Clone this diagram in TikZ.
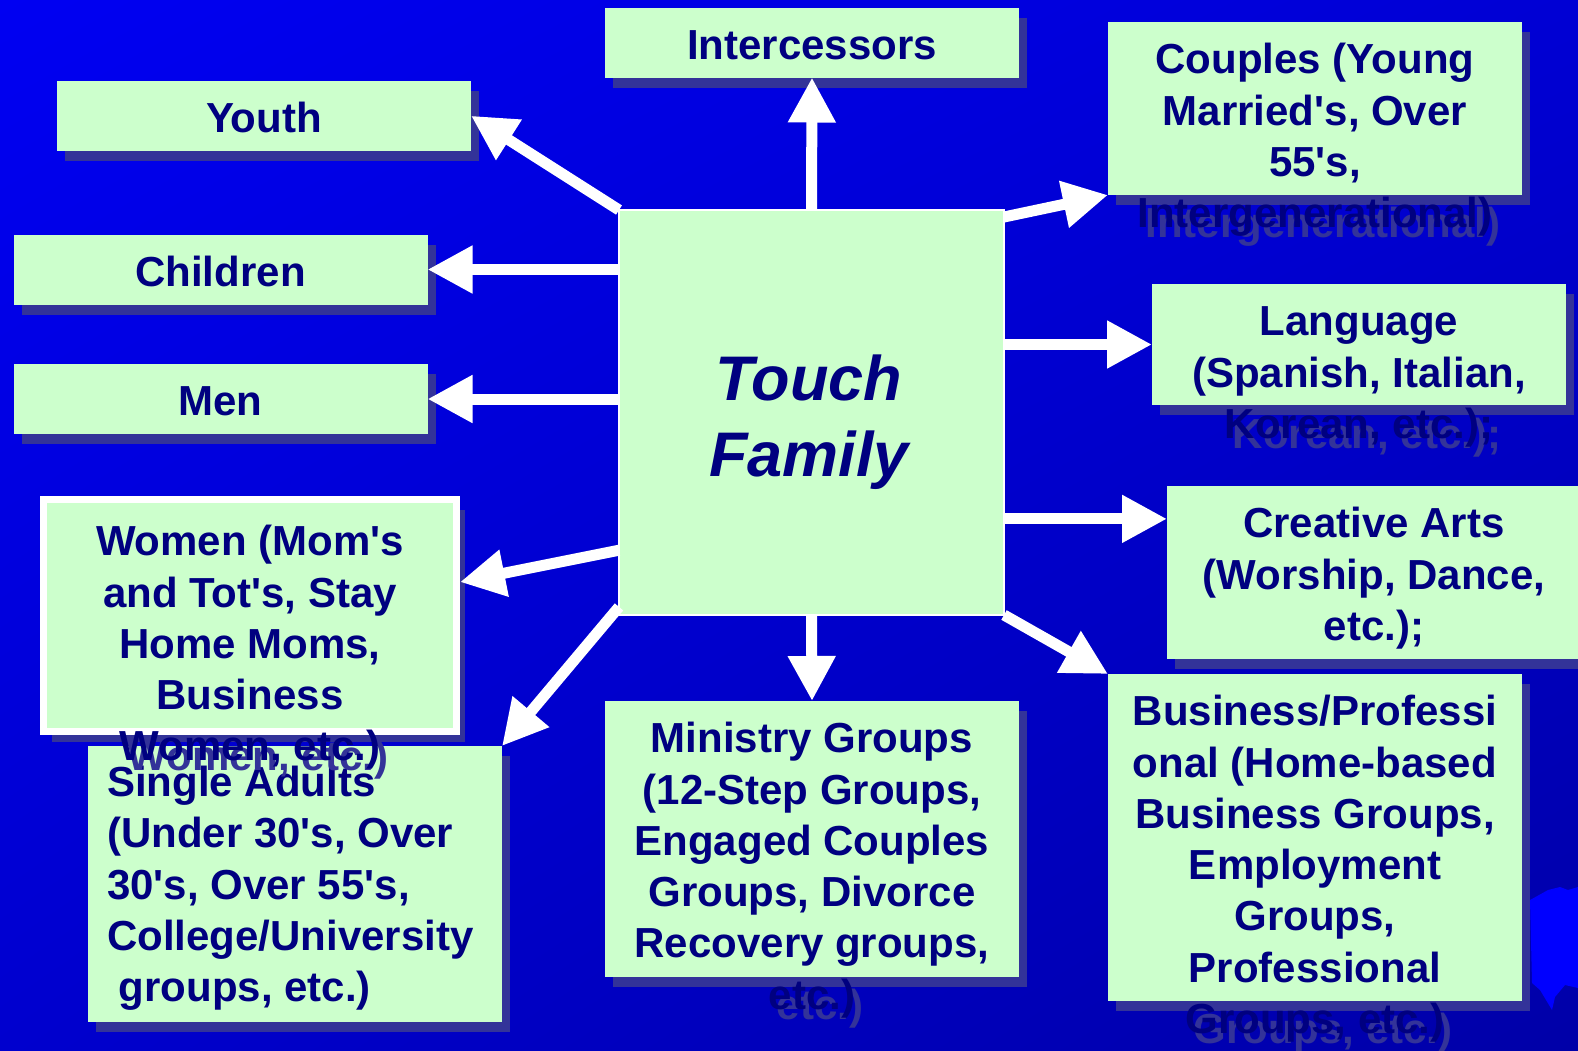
\documentclass[tikz,border=0pt]{standalone}
\usepackage{fontspec}
\setmainfont{Liberation Sans}[Ligatures=TeXOff]
\usetikzlibrary{arrows.meta, calc, shadows, shadings}
\definecolor{bgtl}{RGB}{0, 0, 242}
\definecolor{bgtr}{RGB}{0, 0, 212}
\definecolor{bgbl}{RGB}{0, 0, 206}
\definecolor{bgbr}{RGB}{0, 0, 168}
\definecolor{blobblue}{RGB}{0, 0, 255}
\definecolor{cardgreen}{RGB}{204, 255, 204}
\definecolor{shadowblue}{RGB}{51, 51, 153}
\definecolor{inknavy}{RGB}{0, 0, 128}

\tikzset{
  card/.style={fill=cardgreen, minimum width=414pt, inner sep=0pt, outer sep=0pt,
    drop shadow={shadow xshift=8pt, shadow yshift=-10pt, fill=shadowblue, opacity=1}},
  cardtext/.style={anchor=north, align=center, inner sep=0pt, text=inknavy,
    font=\fontsize{42}{51.3}\selectfont\bfseries},
  cardshade/.style={cardtext, text=shadowblue, shift={(8,10)}},
  famarrow/.style={draw=white, line width=11pt, -{Triangle[length=45pt, width=45pt]}}
}

\begin{document}
\begin{tikzpicture}[x=1pt, y=-1pt]
  \useasboundingbox (0,0) rectangle (1578,1050);
  % Backdrop
  \shade[upper left=bgtl, upper right=bgtr, lower left=bgbl, lower right=bgbr] (0,0) rectangle (1578,1050);
  \fill[blobblue] (1530,900) -- (1548,890) -- (1560,887) -- (1568,890) -- (1578,887) -- (1578,988)
    -- (1565,985) -- (1555,997) -- (1552,1010) -- (1540,990) -- (1532,983) -- cycle;

  % Top row
  \node[cardshade] (inter-s) at (812,23.6) {\strut Intercessors};
  \node[card, minimum height=69.5pt] (inter) at (812,42.75) {};
  \node[cardtext] (inter-t) at (812,23.6) {\strut Intercessors};

  \node[cardshade] (youth-s) at (264,96.1) {\strut Youth};
  \node[card, minimum height=70.5pt] (youth) at (264,115.75) {};
  \node[cardtext] (youth-t) at (264,96.1) {\strut Youth};

  \node[cardshade] (couples-s) at (1315,37.6) {\strut Couples (Young\\Married's, Over\\55's,\\Intergenerational)};
  \node[card, minimum height=173pt] (couples) at (1315,108.5) {};
  \node[cardtext] (couples-t) at (1315,37.6) {\strut Couples (Young\\Married's, Over\\55's,\\Intergenerational)};

  % Left column
  \node[cardshade] (children-s) at (220.5,250.1) {\strut Children};
  \node[card, minimum height=70pt] (children) at (220.5,269.5) {};
  \node[cardtext] (children-t) at (220.5,250.1) {\strut Children};

  \node[cardshade] (men-s) at (220.5,379.6) {\strut Men};
  \node[card, minimum height=70pt] (men) at (220.5,399) {};
  \node[cardtext] (men-t) at (220.5,379.6) {\strut Men};

  % Right column
  \node[cardshade] (lang-s) at (1359,299.6) {\strut Language\\(Spanish, Italian,\\Korean, etc.);};
  \node[card, minimum height=121pt] (lang) at (1359,344.5) {};
  \node[cardtext] (lang-t) at (1359,299.6) {\strut Language\\(Spanish, Italian,\\Korean, etc.);};

  \node[cardshade] (arts-s) at (1374,501.6) {\strut Creative Arts\\(Worship, Dance,\\etc.);};
  \node[card, minimum height=173pt] (arts) at (1374,572.5) {};
  \node[cardtext] (arts-t) at (1374,501.6) {\strut Creative Arts\\(Worship, Dance,\\etc.);};

  % Bottom row
  \node[cardshade, anchor=north west, align=left] (single-s) at (107,760.4) {\strut Single Adults\\(Under 30's, Over\\30's, Over 55's,\\College/University\\\ groups, etc.)};
  \node[card, minimum height=276pt] (single) at (295,884) {};
  \node[cardtext, anchor=north west, align=left] (single-t) at (107,760.4) {\strut Single Adults\\(Under 30's, Over\\30's, Over 55's,\\College/University\\\ groups, etc.)};

  \node[cardshade] (women-s) at (250,519.6) {\strut Women (Mom's\\and Tot's, Stay\\Home Moms,\\Business\\Women, etc.)};
  \node[card, draw=white, line width=7pt, outer sep=3.5pt, minimum width=413pt, minimum height=232pt] (women) at (250,615.5) {};
  \node[cardtext] (women-t) at (250,519.6) {\strut Women (Mom's\\and Tot's, Stay\\Home Moms,\\Business\\Women, etc.)};

  \node[cardshade] (ministry-s) at (812,716.6) {\strut Ministry Groups\\(12-Step Groups,\\Engaged Couples\\Groups, Divorce\\Recovery groups,\\etc.)};
  \node[card, minimum height=276pt] (ministry) at (812,839) {};
  \node[cardtext] (ministry-t) at (812,716.6) {\strut Ministry Groups\\(12-Step Groups,\\Engaged Couples\\Groups, Divorce\\Recovery groups,\\etc.)};

  \node[cardshade] (business-s) at (1315,689.6) {\strut Business/Professi\\onal (Home-based\\Business Groups,\\Employment\\Groups,\\Professional\\Groups, etc.)};
  \node[card, minimum height=327pt] (business) at (1315,837.5) {};
  \node[cardtext] (business-t) at (1315,689.6) {\strut Business/Professi\\onal (Home-based\\Business Groups,\\Employment\\Groups,\\Professional\\Groups, etc.)};

  % Centre
  \node[fill=cardgreen, draw=white, line width=1.5pt, outer sep=0pt, minimum width=385pt, minimum height=405pt] (tf) at (811.5,412.5) {};
  \node[anchor=north, align=center, inner sep=0pt, text=inknavy, font=\fontsize{63}{76}\selectfont\bfseries\itshape] (tf-t) at (809,346.8) {\strut Touch\\Family};

  % Arrows
  \draw[famarrow] (tf.north west) -- (youth.east);
  \draw[famarrow] (tf.north) -- (inter.south);
  \draw[famarrow] ($(tf.north east)+(0,7)$) -- (couples.south west);
  \draw[famarrow] (tf.west |- children.east) -- (children.east);
  \draw[famarrow] (tf.west |- men.east) -- (men.east);
  \draw[famarrow] (tf.east |- lang.west) -- (lang.west);
  \coordinate (arts-in) at ($(arts.north west)!0.19!(arts.south west)$);
  \draw[famarrow] (tf.east |- arts-in) -- (arts-in);
  \draw[famarrow] ($(tf.north west)!0.84!(tf.south west)$) -- ($(women.north east)!0.36!(women.south east)$);
  \draw[famarrow] ($(tf.north west)!0.98!(tf.south west)$) -- (single.north east);
  \draw[famarrow] (tf.south) -- (ministry.north);
  \draw[famarrow] (tf.south east) -- (business.north west);
\end{tikzpicture}
\end{document}
